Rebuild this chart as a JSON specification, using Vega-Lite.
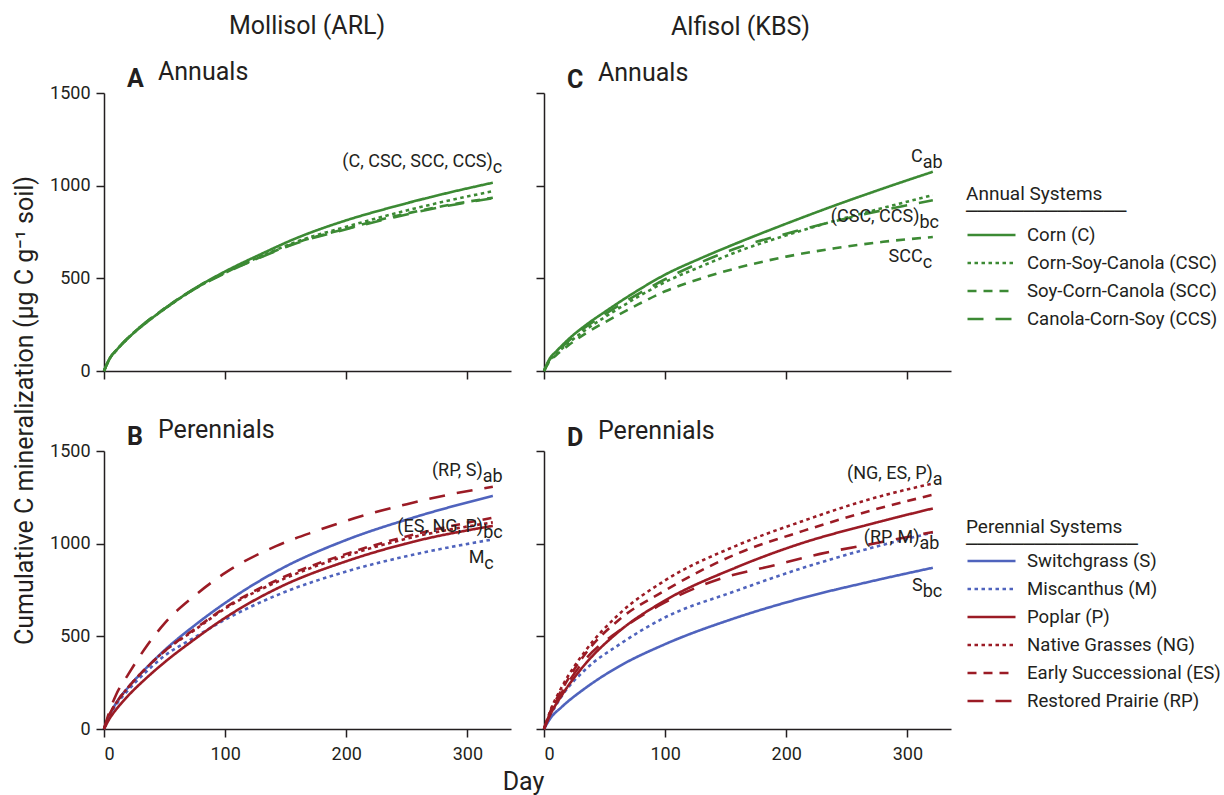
{
  "$schema": "https://vega.github.io/schema/vega-lite/v6.json",
  "background": "white",
  "padding": {"left": 12, "top": 13, "right": 5, "bottom": 5},
  "config": {
    "font": "Roboto",
    "view": {"stroke": null},
    "axis": {
      "grid": false,
      "domainColor": "#231f20",
      "tickColor": "#231f20",
      "domainWidth": 1.5,
      "tickWidth": 1.5,
      "tickSize": 8,
      "labelFont": "Roboto",
      "labelFontSize": 18,
      "labelColor": "#231f20",
      "labelPadding": 8,
      "format": "d",
      "titleFont": "Roboto",
      "titleFontSize": 25,
      "titleFontWeight": "normal",
      "titleColor": "#231f20"
    },
    "axisY": {"labelPadding": 6},
    "legend": {
      "padding": 0,
      "symbolType": "stroke",
      "symbolSize": 2304,
      "symbolStrokeWidth": 3,
      "labelFont": "Roboto",
      "labelFontSize": 18.6,
      "labelColor": "#231f20",
      "labelOffset": 10,
      "labelLimit": 0,
      "titleFont": "Roboto, 'DejaVu Sans'",
      "titleFontSize": 19,
      "titleFontWeight": "normal",
      "titleColor": "#231f20",
      "titleLimit": 0,
      "titleLineHeight": 18,
      "clipHeight": 28,
      "rowPadding": 0
    },
    "line": {"strokeWidth": 2.6, "interpolate": "monotone"},
    "text": {"font": "Roboto", "fontSize": 18, "color": "#231f20"}
  },
  "datasets": {
    "curves": [
      {"panel": "A", "system": "Corn (C)", "day": 0, "c": 0},
      {"panel": "A", "system": "Corn (C)", "day": 5, "c": 70},
      {"panel": "A", "system": "Corn (C)", "day": 10, "c": 110},
      {"panel": "A", "system": "Corn (C)", "day": 20, "c": 178},
      {"panel": "A", "system": "Corn (C)", "day": 35, "c": 262},
      {"panel": "A", "system": "Corn (C)", "day": 50, "c": 335},
      {"panel": "A", "system": "Corn (C)", "day": 75, "c": 446},
      {"panel": "A", "system": "Corn (C)", "day": 100, "c": 537},
      {"panel": "A", "system": "Corn (C)", "day": 130, "c": 632},
      {"panel": "A", "system": "Corn (C)", "day": 160, "c": 720},
      {"panel": "A", "system": "Corn (C)", "day": 200, "c": 813},
      {"panel": "A", "system": "Corn (C)", "day": 240, "c": 888},
      {"panel": "A", "system": "Corn (C)", "day": 280, "c": 955},
      {"panel": "A", "system": "Corn (C)", "day": 321, "c": 1016},

      {"panel": "A", "system": "Corn-Soy-Canola (CSC)", "day": 0, "c": 0},
      {"panel": "A", "system": "Corn-Soy-Canola (CSC)", "day": 5, "c": 70},
      {"panel": "A", "system": "Corn-Soy-Canola (CSC)", "day": 10, "c": 110},
      {"panel": "A", "system": "Corn-Soy-Canola (CSC)", "day": 20, "c": 178},
      {"panel": "A", "system": "Corn-Soy-Canola (CSC)", "day": 35, "c": 262},
      {"panel": "A", "system": "Corn-Soy-Canola (CSC)", "day": 50, "c": 335},
      {"panel": "A", "system": "Corn-Soy-Canola (CSC)", "day": 75, "c": 444},
      {"panel": "A", "system": "Corn-Soy-Canola (CSC)", "day": 100, "c": 532},
      {"panel": "A", "system": "Corn-Soy-Canola (CSC)", "day": 130, "c": 620},
      {"panel": "A", "system": "Corn-Soy-Canola (CSC)", "day": 160, "c": 700},
      {"panel": "A", "system": "Corn-Soy-Canola (CSC)", "day": 200, "c": 778},
      {"panel": "A", "system": "Corn-Soy-Canola (CSC)", "day": 240, "c": 850},
      {"panel": "A", "system": "Corn-Soy-Canola (CSC)", "day": 280, "c": 913},
      {"panel": "A", "system": "Corn-Soy-Canola (CSC)", "day": 321, "c": 970},

      {"panel": "A", "system": "Soy-Corn-Canola (SCC)", "day": 0, "c": 0},
      {"panel": "A", "system": "Soy-Corn-Canola (SCC)", "day": 5, "c": 72},
      {"panel": "A", "system": "Soy-Corn-Canola (SCC)", "day": 10, "c": 112},
      {"panel": "A", "system": "Soy-Corn-Canola (SCC)", "day": 20, "c": 180},
      {"panel": "A", "system": "Soy-Corn-Canola (SCC)", "day": 35, "c": 265},
      {"panel": "A", "system": "Soy-Corn-Canola (SCC)", "day": 50, "c": 338},
      {"panel": "A", "system": "Soy-Corn-Canola (SCC)", "day": 75, "c": 445},
      {"panel": "A", "system": "Soy-Corn-Canola (SCC)", "day": 100, "c": 530},
      {"panel": "A", "system": "Soy-Corn-Canola (SCC)", "day": 130, "c": 617},
      {"panel": "A", "system": "Soy-Corn-Canola (SCC)", "day": 160, "c": 695},
      {"panel": "A", "system": "Soy-Corn-Canola (SCC)", "day": 200, "c": 768},
      {"panel": "A", "system": "Soy-Corn-Canola (SCC)", "day": 240, "c": 835},
      {"panel": "A", "system": "Soy-Corn-Canola (SCC)", "day": 280, "c": 890},
      {"panel": "A", "system": "Soy-Corn-Canola (SCC)", "day": 321, "c": 935},

      {"panel": "A", "system": "Canola-Corn-Soy (CCS)", "day": 0, "c": 0},
      {"panel": "A", "system": "Canola-Corn-Soy (CCS)", "day": 5, "c": 72},
      {"panel": "A", "system": "Canola-Corn-Soy (CCS)", "day": 10, "c": 112},
      {"panel": "A", "system": "Canola-Corn-Soy (CCS)", "day": 20, "c": 180},
      {"panel": "A", "system": "Canola-Corn-Soy (CCS)", "day": 35, "c": 265},
      {"panel": "A", "system": "Canola-Corn-Soy (CCS)", "day": 50, "c": 337},
      {"panel": "A", "system": "Canola-Corn-Soy (CCS)", "day": 75, "c": 443},
      {"panel": "A", "system": "Canola-Corn-Soy (CCS)", "day": 100, "c": 528},
      {"panel": "A", "system": "Canola-Corn-Soy (CCS)", "day": 130, "c": 615},
      {"panel": "A", "system": "Canola-Corn-Soy (CCS)", "day": 160, "c": 692},
      {"panel": "A", "system": "Canola-Corn-Soy (CCS)", "day": 200, "c": 765},
      {"panel": "A", "system": "Canola-Corn-Soy (CCS)", "day": 240, "c": 830},
      {"panel": "A", "system": "Canola-Corn-Soy (CCS)", "day": 280, "c": 887},
      {"panel": "A", "system": "Canola-Corn-Soy (CCS)", "day": 321, "c": 932},

      {"panel": "C", "system": "Corn (C)", "day": 0, "c": 0},
      {"panel": "C", "system": "Corn (C)", "day": 5, "c": 70},
      {"panel": "C", "system": "Corn (C)", "day": 10, "c": 105},
      {"panel": "C", "system": "Corn (C)", "day": 20, "c": 170},
      {"panel": "C", "system": "Corn (C)", "day": 35, "c": 250},
      {"panel": "C", "system": "Corn (C)", "day": 50, "c": 318},
      {"panel": "C", "system": "Corn (C)", "day": 75, "c": 425},
      {"panel": "C", "system": "Corn (C)", "day": 100, "c": 520},
      {"panel": "C", "system": "Corn (C)", "day": 130, "c": 610},
      {"panel": "C", "system": "Corn (C)", "day": 160, "c": 692},
      {"panel": "C", "system": "Corn (C)", "day": 200, "c": 795},
      {"panel": "C", "system": "Corn (C)", "day": 240, "c": 893},
      {"panel": "C", "system": "Corn (C)", "day": 280, "c": 985},
      {"panel": "C", "system": "Corn (C)", "day": 321, "c": 1075},

      {"panel": "C", "system": "Corn-Soy-Canola (CSC)", "day": 0, "c": 0},
      {"panel": "C", "system": "Corn-Soy-Canola (CSC)", "day": 5, "c": 60},
      {"panel": "C", "system": "Corn-Soy-Canola (CSC)", "day": 10, "c": 92},
      {"panel": "C", "system": "Corn-Soy-Canola (CSC)", "day": 20, "c": 150},
      {"panel": "C", "system": "Corn-Soy-Canola (CSC)", "day": 35, "c": 225},
      {"panel": "C", "system": "Corn-Soy-Canola (CSC)", "day": 50, "c": 290},
      {"panel": "C", "system": "Corn-Soy-Canola (CSC)", "day": 75, "c": 390},
      {"panel": "C", "system": "Corn-Soy-Canola (CSC)", "day": 100, "c": 480},
      {"panel": "C", "system": "Corn-Soy-Canola (CSC)", "day": 130, "c": 565},
      {"panel": "C", "system": "Corn-Soy-Canola (CSC)", "day": 160, "c": 645},
      {"panel": "C", "system": "Corn-Soy-Canola (CSC)", "day": 200, "c": 732},
      {"panel": "C", "system": "Corn-Soy-Canola (CSC)", "day": 240, "c": 810},
      {"panel": "C", "system": "Corn-Soy-Canola (CSC)", "day": 280, "c": 880},
      {"panel": "C", "system": "Corn-Soy-Canola (CSC)", "day": 321, "c": 949},

      {"panel": "C", "system": "Soy-Corn-Canola (SCC)", "day": 0, "c": 0},
      {"panel": "C", "system": "Soy-Corn-Canola (SCC)", "day": 5, "c": 55},
      {"panel": "C", "system": "Soy-Corn-Canola (SCC)", "day": 10, "c": 85},
      {"panel": "C", "system": "Soy-Corn-Canola (SCC)", "day": 20, "c": 138},
      {"panel": "C", "system": "Soy-Corn-Canola (SCC)", "day": 35, "c": 205},
      {"panel": "C", "system": "Soy-Corn-Canola (SCC)", "day": 50, "c": 262},
      {"panel": "C", "system": "Soy-Corn-Canola (SCC)", "day": 75, "c": 350},
      {"panel": "C", "system": "Soy-Corn-Canola (SCC)", "day": 100, "c": 430},
      {"panel": "C", "system": "Soy-Corn-Canola (SCC)", "day": 130, "c": 500},
      {"panel": "C", "system": "Soy-Corn-Canola (SCC)", "day": 160, "c": 557},
      {"panel": "C", "system": "Soy-Corn-Canola (SCC)", "day": 200, "c": 617},
      {"panel": "C", "system": "Soy-Corn-Canola (SCC)", "day": 240, "c": 662},
      {"panel": "C", "system": "Soy-Corn-Canola (SCC)", "day": 280, "c": 697},
      {"panel": "C", "system": "Soy-Corn-Canola (SCC)", "day": 321, "c": 723},

      {"panel": "C", "system": "Canola-Corn-Soy (CCS)", "day": 0, "c": 0},
      {"panel": "C", "system": "Canola-Corn-Soy (CCS)", "day": 5, "c": 65},
      {"panel": "C", "system": "Canola-Corn-Soy (CCS)", "day": 10, "c": 98},
      {"panel": "C", "system": "Canola-Corn-Soy (CCS)", "day": 20, "c": 160},
      {"panel": "C", "system": "Canola-Corn-Soy (CCS)", "day": 35, "c": 240},
      {"panel": "C", "system": "Canola-Corn-Soy (CCS)", "day": 50, "c": 305},
      {"panel": "C", "system": "Canola-Corn-Soy (CCS)", "day": 75, "c": 405},
      {"panel": "C", "system": "Canola-Corn-Soy (CCS)", "day": 100, "c": 495},
      {"panel": "C", "system": "Canola-Corn-Soy (CCS)", "day": 130, "c": 588},
      {"panel": "C", "system": "Canola-Corn-Soy (CCS)", "day": 160, "c": 665},
      {"panel": "C", "system": "Canola-Corn-Soy (CCS)", "day": 200, "c": 741},
      {"panel": "C", "system": "Canola-Corn-Soy (CCS)", "day": 240, "c": 808},
      {"panel": "C", "system": "Canola-Corn-Soy (CCS)", "day": 280, "c": 868},
      {"panel": "C", "system": "Canola-Corn-Soy (CCS)", "day": 321, "c": 921},

      {"panel": "B", "system": "Switchgrass (S)", "day": 0, "c": 0},
      {"panel": "B", "system": "Switchgrass (S)", "day": 5, "c": 80},
      {"panel": "B", "system": "Switchgrass (S)", "day": 10, "c": 140},
      {"panel": "B", "system": "Switchgrass (S)", "day": 20, "c": 225},
      {"panel": "B", "system": "Switchgrass (S)", "day": 35, "c": 330},
      {"panel": "B", "system": "Switchgrass (S)", "day": 50, "c": 425},
      {"panel": "B", "system": "Switchgrass (S)", "day": 75, "c": 560},
      {"panel": "B", "system": "Switchgrass (S)", "day": 100, "c": 680},
      {"panel": "B", "system": "Switchgrass (S)", "day": 145, "c": 860},
      {"panel": "B", "system": "Switchgrass (S)", "day": 200, "c": 1020},
      {"panel": "B", "system": "Switchgrass (S)", "day": 255, "c": 1140},
      {"panel": "B", "system": "Switchgrass (S)", "day": 321, "c": 1258},

      {"panel": "B", "system": "Miscanthus (M)", "day": 0, "c": 0},
      {"panel": "B", "system": "Miscanthus (M)", "day": 5, "c": 75},
      {"panel": "B", "system": "Miscanthus (M)", "day": 10, "c": 130},
      {"panel": "B", "system": "Miscanthus (M)", "day": 20, "c": 210},
      {"panel": "B", "system": "Miscanthus (M)", "day": 35, "c": 310},
      {"panel": "B", "system": "Miscanthus (M)", "day": 50, "c": 395},
      {"panel": "B", "system": "Miscanthus (M)", "day": 75, "c": 495},
      {"panel": "B", "system": "Miscanthus (M)", "day": 100, "c": 590},
      {"panel": "B", "system": "Miscanthus (M)", "day": 145, "c": 728},
      {"panel": "B", "system": "Miscanthus (M)", "day": 200, "c": 850},
      {"panel": "B", "system": "Miscanthus (M)", "day": 255, "c": 940},
      {"panel": "B", "system": "Miscanthus (M)", "day": 321, "c": 1023},

      {"panel": "B", "system": "Poplar (P)", "day": 0, "c": 0},
      {"panel": "B", "system": "Poplar (P)", "day": 5, "c": 60},
      {"panel": "B", "system": "Poplar (P)", "day": 10, "c": 105},
      {"panel": "B", "system": "Poplar (P)", "day": 20, "c": 180},
      {"panel": "B", "system": "Poplar (P)", "day": 35, "c": 275},
      {"panel": "B", "system": "Poplar (P)", "day": 50, "c": 360},
      {"panel": "B", "system": "Poplar (P)", "day": 75, "c": 485},
      {"panel": "B", "system": "Poplar (P)", "day": 100, "c": 600},
      {"panel": "B", "system": "Poplar (P)", "day": 145, "c": 765},
      {"panel": "B", "system": "Poplar (P)", "day": 200, "c": 905},
      {"panel": "B", "system": "Poplar (P)", "day": 255, "c": 1010},
      {"panel": "B", "system": "Poplar (P)", "day": 321, "c": 1096},

      {"panel": "B", "system": "Native Grasses (NG)", "day": 0, "c": 0},
      {"panel": "B", "system": "Native Grasses (NG)", "day": 5, "c": 85},
      {"panel": "B", "system": "Native Grasses (NG)", "day": 10, "c": 140},
      {"panel": "B", "system": "Native Grasses (NG)", "day": 20, "c": 225},
      {"panel": "B", "system": "Native Grasses (NG)", "day": 35, "c": 330},
      {"panel": "B", "system": "Native Grasses (NG)", "day": 50, "c": 420},
      {"panel": "B", "system": "Native Grasses (NG)", "day": 75, "c": 535},
      {"panel": "B", "system": "Native Grasses (NG)", "day": 100, "c": 650},
      {"panel": "B", "system": "Native Grasses (NG)", "day": 145, "c": 800},
      {"panel": "B", "system": "Native Grasses (NG)", "day": 200, "c": 935},
      {"panel": "B", "system": "Native Grasses (NG)", "day": 255, "c": 1035},
      {"panel": "B", "system": "Native Grasses (NG)", "day": 321, "c": 1115},

      {"panel": "B", "system": "Early Successional (ES)", "day": 0, "c": 0},
      {"panel": "B", "system": "Early Successional (ES)", "day": 5, "c": 85},
      {"panel": "B", "system": "Early Successional (ES)", "day": 10, "c": 140},
      {"panel": "B", "system": "Early Successional (ES)", "day": 20, "c": 225},
      {"panel": "B", "system": "Early Successional (ES)", "day": 35, "c": 330},
      {"panel": "B", "system": "Early Successional (ES)", "day": 50, "c": 420},
      {"panel": "B", "system": "Early Successional (ES)", "day": 75, "c": 540},
      {"panel": "B", "system": "Early Successional (ES)", "day": 100, "c": 655},
      {"panel": "B", "system": "Early Successional (ES)", "day": 145, "c": 810},
      {"panel": "B", "system": "Early Successional (ES)", "day": 200, "c": 945},
      {"panel": "B", "system": "Early Successional (ES)", "day": 255, "c": 1048},
      {"panel": "B", "system": "Early Successional (ES)", "day": 321, "c": 1140},

      {"panel": "B", "system": "Restored Prairie (RP)", "day": 0, "c": 0},
      {"panel": "B", "system": "Restored Prairie (RP)", "day": 5, "c": 105},
      {"panel": "B", "system": "Restored Prairie (RP)", "day": 10, "c": 185},
      {"panel": "B", "system": "Restored Prairie (RP)", "day": 20, "c": 295},
      {"panel": "B", "system": "Restored Prairie (RP)", "day": 35, "c": 445},
      {"panel": "B", "system": "Restored Prairie (RP)", "day": 50, "c": 570},
      {"panel": "B", "system": "Restored Prairie (RP)", "day": 75, "c": 720},
      {"panel": "B", "system": "Restored Prairie (RP)", "day": 100, "c": 842},
      {"panel": "B", "system": "Restored Prairie (RP)", "day": 142, "c": 987},
      {"panel": "B", "system": "Restored Prairie (RP)", "day": 175, "c": 1068},
      {"panel": "B", "system": "Restored Prairie (RP)", "day": 216, "c": 1155},
      {"panel": "B", "system": "Restored Prairie (RP)", "day": 250, "c": 1213},
      {"panel": "B", "system": "Restored Prairie (RP)", "day": 285, "c": 1265},
      {"panel": "B", "system": "Restored Prairie (RP)", "day": 321, "c": 1307},

      {"panel": "D", "system": "Switchgrass (S)", "day": 0, "c": 0},
      {"panel": "D", "system": "Switchgrass (S)", "day": 5, "c": 55},
      {"panel": "D", "system": "Switchgrass (S)", "day": 15, "c": 121},
      {"panel": "D", "system": "Switchgrass (S)", "day": 34, "c": 220},
      {"panel": "D", "system": "Switchgrass (S)", "day": 62, "c": 338},
      {"panel": "D", "system": "Switchgrass (S)", "day": 99, "c": 455},
      {"panel": "D", "system": "Switchgrass (S)", "day": 158, "c": 599},
      {"panel": "D", "system": "Switchgrass (S)", "day": 214, "c": 708},
      {"panel": "D", "system": "Switchgrass (S)", "day": 269, "c": 795},
      {"panel": "D", "system": "Switchgrass (S)", "day": 321, "c": 870},

      {"panel": "D", "system": "Miscanthus (M)", "day": 0, "c": 0},
      {"panel": "D", "system": "Miscanthus (M)", "day": 5, "c": 70},
      {"panel": "D", "system": "Miscanthus (M)", "day": 15, "c": 180},
      {"panel": "D", "system": "Miscanthus (M)", "day": 34, "c": 320},
      {"panel": "D", "system": "Miscanthus (M)", "day": 62, "c": 455},
      {"panel": "D", "system": "Miscanthus (M)", "day": 99, "c": 599},
      {"panel": "D", "system": "Miscanthus (M)", "day": 158, "c": 744},
      {"panel": "D", "system": "Miscanthus (M)", "day": 214, "c": 870},
      {"panel": "D", "system": "Miscanthus (M)", "day": 269, "c": 975},
      {"panel": "D", "system": "Miscanthus (M)", "day": 321, "c": 1060},

      {"panel": "D", "system": "Poplar (P)", "day": 0, "c": 0},
      {"panel": "D", "system": "Poplar (P)", "day": 5, "c": 75},
      {"panel": "D", "system": "Poplar (P)", "day": 15, "c": 185},
      {"panel": "D", "system": "Poplar (P)", "day": 34, "c": 350},
      {"panel": "D", "system": "Poplar (P)", "day": 62, "c": 527},
      {"panel": "D", "system": "Poplar (P)", "day": 99, "c": 690},
      {"panel": "D", "system": "Poplar (P)", "day": 158, "c": 870},
      {"panel": "D", "system": "Poplar (P)", "day": 214, "c": 1005},
      {"panel": "D", "system": "Poplar (P)", "day": 269, "c": 1105},
      {"panel": "D", "system": "Poplar (P)", "day": 321, "c": 1190},

      {"panel": "D", "system": "Native Grasses (NG)", "day": 0, "c": 0},
      {"panel": "D", "system": "Native Grasses (NG)", "day": 5, "c": 95},
      {"panel": "D", "system": "Native Grasses (NG)", "day": 15, "c": 230},
      {"panel": "D", "system": "Native Grasses (NG)", "day": 34, "c": 420},
      {"panel": "D", "system": "Native Grasses (NG)", "day": 62, "c": 620},
      {"panel": "D", "system": "Native Grasses (NG)", "day": 99, "c": 798},
      {"panel": "D", "system": "Native Grasses (NG)", "day": 158, "c": 987},
      {"panel": "D", "system": "Native Grasses (NG)", "day": 214, "c": 1123},
      {"panel": "D", "system": "Native Grasses (NG)", "day": 269, "c": 1240},
      {"panel": "D", "system": "Native Grasses (NG)", "day": 321, "c": 1325},

      {"panel": "D", "system": "Early Successional (ES)", "day": 0, "c": 0},
      {"panel": "D", "system": "Early Successional (ES)", "day": 5, "c": 90},
      {"panel": "D", "system": "Early Successional (ES)", "day": 15, "c": 215},
      {"panel": "D", "system": "Early Successional (ES)", "day": 34, "c": 405},
      {"panel": "D", "system": "Early Successional (ES)", "day": 62, "c": 590},
      {"panel": "D", "system": "Early Successional (ES)", "day": 99, "c": 744},
      {"panel": "D", "system": "Early Successional (ES)", "day": 158, "c": 942},
      {"panel": "D", "system": "Early Successional (ES)", "day": 214, "c": 1069},
      {"panel": "D", "system": "Early Successional (ES)", "day": 269, "c": 1177},
      {"panel": "D", "system": "Early Successional (ES)", "day": 321, "c": 1264},

      {"panel": "D", "system": "Restored Prairie (RP)", "day": 0, "c": 0},
      {"panel": "D", "system": "Restored Prairie (RP)", "day": 5, "c": 85},
      {"panel": "D", "system": "Restored Prairie (RP)", "day": 15, "c": 200},
      {"panel": "D", "system": "Restored Prairie (RP)", "day": 34, "c": 375},
      {"panel": "D", "system": "Restored Prairie (RP)", "day": 62, "c": 530},
      {"panel": "D", "system": "Restored Prairie (RP)", "day": 99, "c": 680},
      {"panel": "D", "system": "Restored Prairie (RP)", "day": 148, "c": 816},
      {"panel": "D", "system": "Restored Prairie (RP)", "day": 186, "c": 877},
      {"panel": "D", "system": "Restored Prairie (RP)", "day": 228, "c": 945},
      {"panel": "D", "system": "Restored Prairie (RP)", "day": 280, "c": 1010},
      {"panel": "D", "system": "Restored Prairie (RP)", "day": 321, "c": 1063}
    ],
    "labels": [
      {"panel": "A", "day": 321, "c": 1099, "main": "(C, CSC, SCC, CCS)", "sub": "c"},
      {"panel": "C", "day": 312.6, "c": 1126, "main": "C", "sub": "ab"},
      {"panel": "C", "day": 310, "c": 802, "main": "(CSC, CCS)", "sub": "bc"},
      {"panel": "C", "day": 312.6, "c": 587, "main": "SCC", "sub": "c"},
      {"panel": "B", "day": 312.6, "c": 1366, "main": "(RP, S)", "sub": "ab"},
      {"panel": "B", "day": 313, "c": 1065, "main": "(ES, NG, P)", "sub": "bc"},
      {"panel": "B", "day": 314, "c": 897, "main": "M", "sub": "c"},
      {"panel": "D", "day": 321, "c": 1348, "main": "(NG, ES, P)", "sub": "a"},
      {"panel": "D", "day": 310, "c": 1006, "main": "(RP, M)", "sub": "ab"},
      {"panel": "D", "day": 312.6, "c": 744, "main": "S", "sub": "bc"}
    ]
  },
  "hconcat": [
    {
      "title": {"text": "Mollisol (ARL)", "anchor": "start", "frame": "group", "dx": 125, "fontSize": 25, "fontWeight": "normal", "color": "#231f20", "font": "Roboto", "offset": 21},
      "spacing": 80,
      "bounds": "flush",
      "resolve": {"scale": {"color": "independent", "strokeDash": "independent"}},
      "vconcat": [
        {
          "width": 407, "height": 278,
          "title": {"text": "A", "subtitle": "\u200b\u00a0\u00a0\u00a0\u00a0\u00a0Annuals", "anchor": "start", "frame": "group", "dx": 23, "offset": -15.5, "font": "Roboto", "subtitleFont": "Roboto", "fontSize": 25, "subtitleFontSize": 25, "fontWeight": "bold", "subtitleFontWeight": "normal", "subtitlePadding": -32.5, "color": "#231f20", "subtitleColor": "#231f20"},
          "layer": [
            {
              "data": {"name": "curves"},
              "transform": [{"filter": "datum.panel === 'A'"}],
              "mark": {"type": "line"},
              "encoding": {
                "x": {"field": "day", "type": "quantitative", "scale": {"domain": [0, 336], "nice": false}, "axis": {"values": [0, 100, 200, 300], "labels": false, "title": null}},
                "y": {"field": "c", "type": "quantitative", "scale": {"domain": [0, 1500], "nice": false}, "axis": {"values": [0, 500, 1000, 1500], "title": "Cumulative C mineralization (µg C g⁻¹ soil)", "titleY": 317, "titlePadding": 12}},
                "color": {"field": "system", "type": "nominal", "scale": {"domain": ["Corn (C)", "Corn-Soy-Canola (CSC)", "Soy-Corn-Canola (SCC)", "Canola-Corn-Soy (CCS)"], "range": ["#3c8a34", "#3c8a34", "#3c8a34", "#3c8a34"]}, "legend": null},
                "strokeDash": {"field": "system", "type": "nominal", "scale": {"domain": ["Corn (C)", "Corn-Soy-Canola (CSC)", "Soy-Corn-Canola (SCC)", "Canola-Corn-Soy (CCS)"], "range": [[1, 0], [3.5, 3.5], [9, 7], [16, 12]]}, "legend": null}
              }
            },
            {
              "data": {"name": "labels"},
              "transform": [{"filter": "datum.panel === 'A'"}],
              "mark": {"type": "text", "align": "right", "baseline": "alphabetic"},
              "encoding": {"x": {"field": "day", "type": "quantitative"}, "y": {"field": "c", "type": "quantitative"}, "text": {"field": "main"}}
            },
            {
              "data": {"name": "labels"},
              "transform": [{"filter": "datum.panel === 'A'"}],
              "mark": {"type": "text", "align": "left", "baseline": "alphabetic", "dy": 6},
              "encoding": {"x": {"field": "day", "type": "quantitative"}, "y": {"field": "c", "type": "quantitative"}, "text": {"field": "sub"}}
            }
          ]
        },
        {
          "width": 407, "height": 278,
          "title": {"text": "B", "subtitle": "\u200b\u00a0\u00a0\u00a0\u00a0\u00a0Perennials", "anchor": "start", "frame": "group", "dx": 23, "offset": -15.5, "font": "Roboto", "subtitleFont": "Roboto", "fontSize": 25, "subtitleFontSize": 25, "fontWeight": "bold", "subtitleFontWeight": "normal", "subtitlePadding": -32.5, "color": "#231f20", "subtitleColor": "#231f20"},
          "layer": [
            {
              "data": {"name": "curves"},
              "transform": [{"filter": "datum.panel === 'B'"}],
              "mark": {"type": "line"},
              "encoding": {
                "x": {"field": "day", "type": "quantitative", "scale": {"domain": [0, 336], "nice": false}, "axis": {"values": [0, 100, 200, 300], "title": "Day", "titleX": 419, "titlePadding": 6}},
                "y": {"field": "c", "type": "quantitative", "scale": {"domain": [0, 1500], "nice": false}, "axis": {"values": [0, 500, 1000, 1500], "title": null}},
                "color": {"field": "system", "type": "nominal", "scale": {"domain": ["Switchgrass (S)", "Miscanthus (M)", "Poplar (P)", "Native Grasses (NG)", "Early Successional (ES)", "Restored Prairie (RP)"], "range": ["#4f63bd", "#4f63bd", "#9b1b25", "#9b1b25", "#9b1b25", "#9b1b25"]}, "legend": null},
                "strokeDash": {"field": "system", "type": "nominal", "scale": {"domain": ["Switchgrass (S)", "Miscanthus (M)", "Poplar (P)", "Native Grasses (NG)", "Early Successional (ES)", "Restored Prairie (RP)"], "range": [[1, 0], [3.5, 3.5], [1, 0], [3.5, 3.5], [9, 7], [16, 12]]}, "legend": null}
              }
            },
            {
              "data": {"name": "labels"},
              "transform": [{"filter": "datum.panel === 'B'"}],
              "mark": {"type": "text", "align": "right", "baseline": "alphabetic"},
              "encoding": {"x": {"field": "day", "type": "quantitative"}, "y": {"field": "c", "type": "quantitative"}, "text": {"field": "main"}}
            },
            {
              "data": {"name": "labels"},
              "transform": [{"filter": "datum.panel === 'B'"}],
              "mark": {"type": "text", "align": "left", "baseline": "alphabetic", "dy": 6},
              "encoding": {"x": {"field": "day", "type": "quantitative"}, "y": {"field": "c", "type": "quantitative"}, "text": {"field": "sub"}}
            }
          ]
        }
      ]
    },
    {
      "title": {"text": "Alfisol (KBS)", "anchor": "start", "frame": "group", "dx": 127, "fontSize": 25, "fontWeight": "normal", "color": "#231f20", "font": "Roboto", "offset": 21},
      "spacing": 80,
      "bounds": "flush",
      "resolve": {"scale": {"color": "independent", "strokeDash": "independent"}},
      "vconcat": [
        {
          "width": 407, "height": 278,
          "title": {"text": "C", "subtitle": "\u200b\u00a0\u00a0\u00a0\u00a0\u00a0Annuals", "anchor": "start", "frame": "group", "dx": 23, "offset": -8.5, "font": "Roboto", "subtitleFont": "Roboto", "fontSize": 25, "subtitleFontSize": 25, "fontWeight": "bold", "subtitleFontWeight": "normal", "subtitlePadding": -32.5, "color": "#231f20", "subtitleColor": "#231f20"},
          "layer": [
            {
              "data": {"name": "curves"},
              "transform": [{"filter": "datum.panel === 'C'"}],
              "mark": {"type": "line"},
              "encoding": {
                "x": {"field": "day", "type": "quantitative", "scale": {"domain": [0, 336], "nice": false}, "axis": {"values": [0, 100, 200, 300], "labels": false, "title": null}},
                "y": {"field": "c", "type": "quantitative", "scale": {"domain": [0, 1500], "nice": false}, "axis": {"values": [0, 500, 1000, 1500], "labels": false, "title": null}},
                "color": {"field": "system", "type": "nominal", "scale": {"domain": ["Corn (C)", "Corn-Soy-Canola (CSC)", "Soy-Corn-Canola (SCC)", "Canola-Corn-Soy (CCS)"], "range": ["#3c8a34", "#3c8a34", "#3c8a34", "#3c8a34"]}, "legend": {"title": ["Annual Systems", "──────────────"], "orient": "none", "legendX": 422, "legendY": 92, "titlePadding": -1}},
                "strokeDash": {"field": "system", "type": "nominal", "scale": {"domain": ["Corn (C)", "Corn-Soy-Canola (CSC)", "Soy-Corn-Canola (SCC)", "Canola-Corn-Soy (CCS)"], "range": [[1, 0], [3.5, 3.5], [9, 7], [16, 12]]}, "legend": {"title": ["Annual Systems", "──────────────"], "orient": "none", "legendX": 422, "legendY": 92, "titlePadding": -1}}
              }
            },
            {
              "data": {"name": "labels"},
              "transform": [{"filter": "datum.panel === 'C'"}],
              "mark": {"type": "text", "align": "right", "baseline": "alphabetic"},
              "encoding": {"x": {"field": "day", "type": "quantitative"}, "y": {"field": "c", "type": "quantitative"}, "text": {"field": "main"}}
            },
            {
              "data": {"name": "labels"},
              "transform": [{"filter": "datum.panel === 'C'"}],
              "mark": {"type": "text", "align": "left", "baseline": "alphabetic", "dy": 6},
              "encoding": {"x": {"field": "day", "type": "quantitative"}, "y": {"field": "c", "type": "quantitative"}, "text": {"field": "sub"}}
            }
          ]
        },
        {
          "width": 407, "height": 278,
          "title": {"text": "D", "subtitle": "\u200b\u00a0\u00a0\u00a0\u00a0\u00a0Perennials", "anchor": "start", "frame": "group", "dx": 23, "offset": -8.5, "font": "Roboto", "subtitleFont": "Roboto", "fontSize": 25, "subtitleFontSize": 25, "fontWeight": "bold", "subtitleFontWeight": "normal", "subtitlePadding": -32.5, "color": "#231f20", "subtitleColor": "#231f20"},
          "layer": [
            {
              "data": {"name": "curves"},
              "transform": [{"filter": "datum.panel === 'D'"}],
              "mark": {"type": "line"},
              "encoding": {
                "x": {"field": "day", "type": "quantitative", "scale": {"domain": [0, 336], "nice": false}, "axis": {"values": [0, 100, 200, 300], "title": null}},
                "y": {"field": "c", "type": "quantitative", "scale": {"domain": [0, 1500], "nice": false}, "axis": {"values": [0, 500, 1000, 1500], "labels": false, "title": null}},
                "color": {"field": "system", "type": "nominal", "scale": {"domain": ["Switchgrass (S)", "Miscanthus (M)", "Poplar (P)", "Native Grasses (NG)", "Early Successional (ES)", "Restored Prairie (RP)"], "range": ["#4f63bd", "#4f63bd", "#9b1b25", "#9b1b25", "#9b1b25", "#9b1b25"]}, "legend": {"title": ["Perennial Systems", "───────────────"], "orient": "none", "legendX": 422, "legendY": 67, "titlePadding": -8}},
                "strokeDash": {"field": "system", "type": "nominal", "scale": {"domain": ["Switchgrass (S)", "Miscanthus (M)", "Poplar (P)", "Native Grasses (NG)", "Early Successional (ES)", "Restored Prairie (RP)"], "range": [[1, 0], [3.5, 3.5], [1, 0], [3.5, 3.5], [9, 7], [16, 12]]}, "legend": {"title": ["Perennial Systems", "───────────────"], "orient": "none", "legendX": 422, "legendY": 67, "titlePadding": -8}}
              }
            },
            {
              "data": {"name": "labels"},
              "transform": [{"filter": "datum.panel === 'D'"}],
              "mark": {"type": "text", "align": "right", "baseline": "alphabetic"},
              "encoding": {"x": {"field": "day", "type": "quantitative"}, "y": {"field": "c", "type": "quantitative"}, "text": {"field": "main"}}
            },
            {
              "data": {"name": "labels"},
              "transform": [{"filter": "datum.panel === 'D'"}],
              "mark": {"type": "text", "align": "left", "baseline": "alphabetic", "dy": 6},
              "encoding": {"x": {"field": "day", "type": "quantitative"}, "y": {"field": "c", "type": "quantitative"}, "text": {"field": "sub"}}
            }
          ]
        }
      ]
    }
  ],
  "spacing": -9.5,
  "resolve": {"scale": {"color": "independent", "strokeDash": "independent"}}
}
